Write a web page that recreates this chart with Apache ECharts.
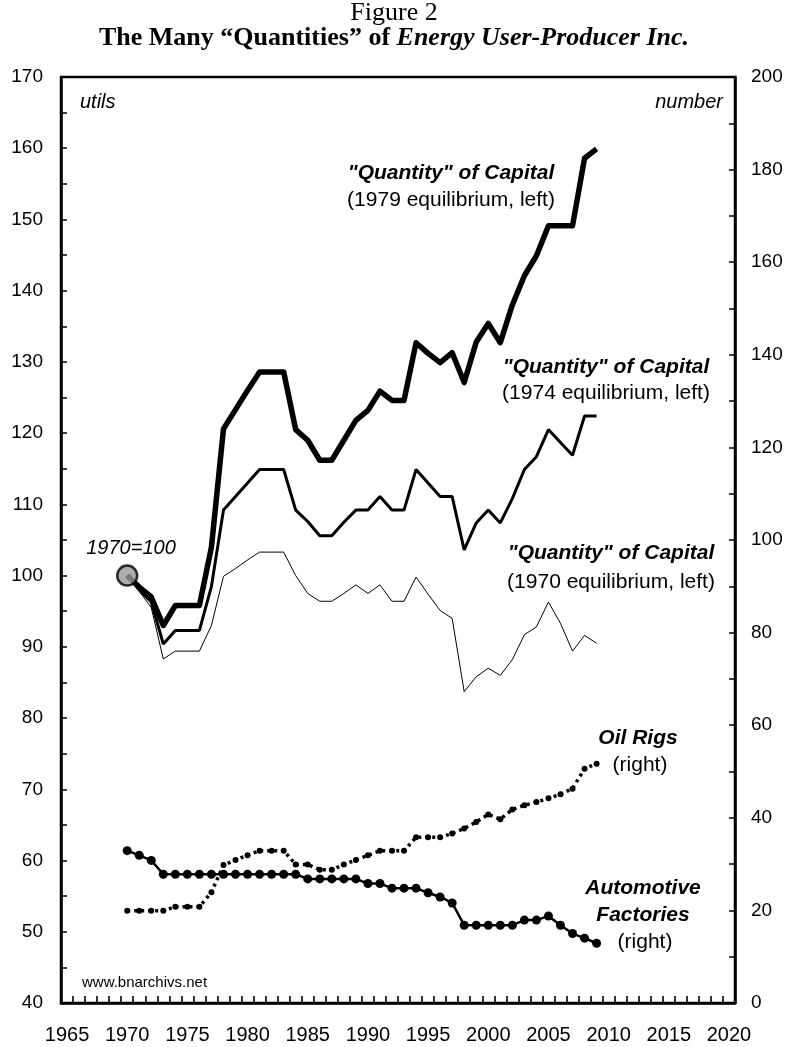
<!DOCTYPE html>
<html>
<head>
<meta charset="utf-8">
<script src="https://cdn.jsdelivr.net/npm/echarts@6/dist/echarts.min.js"></script>
<style>
html,body{margin:0;padding:0;background:#fff;}
#chart{width:788px;height:1047px;}
</style>
</head>
<body>
<div id="chart"></div>
<script>
// ---------- DATA ----------
const years = [1970,1971,1972,1973,1974,1975,1976,1977,1978,1979,1980,1981,1982,1983,1984,1985,1986,1987,1988,1989,1990,1991,1992,1993,1994,1995,1996,1997,1998,1999,2000,2001,2002,2003,2004,2005,2006,2007,2008,2009];

// "Quantity" of Capital, 1979 equilibrium (left axis)
const capital1979 = [100,98.4,97.0,93.0,95.8,95.8,95.8,104.0,120.6,123.3,126.0,128.6,128.6,128.6,120.5,119.0,116.2,116.2,119.0,121.8,123.2,125.9,124.6,124.6,132.7,131.2,129.9,131.3,127.1,132.8,135.4,132.7,138.0,142.1,144.9,149.1,149.1,149.1,158.6,159.9];

// "Quantity" of Capital, 1974 equilibrium (left axis)
const capital1974 = [100,98.0,96.3,90.4,92.3,92.3,92.3,98.5,109.2,111.1,113.0,114.9,114.9,114.9,109.2,107.6,105.6,105.6,107.5,109.2,109.2,111.1,109.2,109.2,114.9,113.0,111.1,111.1,103.6,107.4,109.2,107.4,110.8,114.9,116.7,120.5,118.7,116.9,122.4,122.4];

// "Quantity" of Capital, 1970 equilibrium (left axis)
const capital1970 = [100,97.8,95.5,88.3,89.4,89.4,89.4,93.0,99.9,101.0,102.2,103.3,103.3,103.3,100.0,97.5,96.4,96.4,97.5,98.7,97.5,98.7,96.4,96.4,99.8,97.4,95.1,94.0,83.7,85.8,87.0,86.0,88.2,91.7,92.8,96.3,93.3,89.4,91.6,90.5];

// Oil Rigs (right axis)
const oilRigs = [19.9,19.9,19.9,19.9,20.8,20.8,20.8,23.9,29.8,30.9,31.9,32.9,32.9,32.9,29.9,29.9,28.8,28.8,29.9,30.9,31.9,32.9,32.9,32.9,35.8,35.8,35.8,36.6,37.7,39.1,40.7,39.7,41.8,42.7,43.4,44.2,45.1,46.3,50.6,51.7];

// Automotive Factories (right axis)
const autoFactories = [32.9,31.9,30.8,27.8,27.8,27.8,27.8,27.8,27.8,27.8,27.8,27.8,27.8,27.8,27.8,26.8,26.8,26.8,26.8,26.8,25.8,25.8,24.8,24.8,24.8,23.8,22.9,21.6,16.8,16.8,16.8,16.8,16.8,17.9,17.9,18.8,16.8,15.0,14.0,12.9];

// Tick labels
const xTickLabels = [1965,1970,1975,1980,1985,1990,1995,2000,2005,2010,2015,2020];
const baseYear = 1970;
const baseValue = 100;

// ---------- CHART ----------
const pairs = arr => years.map((y, i) => [y, arr[i]]);

const SANS = '"Liberation Sans", Arial, sans-serif';
const SERIF = '"Liberation Serif", "Times New Roman", serif';

const chart = echarts.init(document.getElementById('chart'), null, {renderer: 'canvas'});

function txt(text, x, y, opts) {
  return {
    type: 'text', x: x, y: y, z: 100,
    style: Object.assign({
      text: text, fill: '#000', align: 'center', verticalAlign: 'middle',
      font: '21px ' + SANS
    }, opts || {})
  };
}

const option = {
  backgroundColor: '#fff',
  animation: false,
  title: {
    left: 'center', top: -4,
    text: '{f|Figure 2}\n{a|The Many “Quantities” of }{b|Energy User-Producer Inc.}',
    textStyle: {
      rich: {
        f: {fontFamily: SERIF, fontSize: 26, fontWeight: 'normal', color: '#000', lineHeight: 25},
        a: {fontFamily: SERIF, fontSize: 26, fontWeight: 'bold', color: '#000', lineHeight: 25},
        b: {fontFamily: SERIF, fontSize: 26, fontWeight: 'bold', fontStyle: 'italic', color: '#000', lineHeight: 25}
      }
    }
  },
  grid: {
    left: 61, right: 53, top: 77, bottom: 44,
    show: true, borderColor: '#000', borderWidth: 2.5, backgroundColor: 'transparent'
  },
  xAxis: {
    type: 'value', min: 1964.5, max: 2020.5, interval: 1,
    axisLine: {show: true, onZero: false, lineStyle: {color: '#000', width: 2.5}},
    axisTick: {show: true, inside: true, length: 7, lineStyle: {color: '#000', width: 1.6}},
    axisLabel: {customValues: xTickLabels, color: '#000', fontSize: 20, fontFamily: SANS, margin: 22,
      formatter: v => String(v)},
    splitLine: {show: false}
  },
  yAxis: [
    {
      type: 'value', position: 'left', min: 40, max: 170, interval: 10,
      axisLine: {show: true, lineStyle: {color: '#000', width: 2.5}},
      axisTick: {show: true, inside: true, length: 6, lineStyle: {color: '#000', width: 1.5}},
      minorTick: {show: true, splitNumber: 2, length: 6, lineStyle: {color: '#000', width: 1.5}},
      axisLabel: {color: '#000', fontSize: 19, fontFamily: SANS, margin: 18},
      splitLine: {show: false}
    },
    {
      type: 'value', position: 'right', min: 0, max: 200, interval: 20,
      axisLine: {show: true, lineStyle: {color: '#000', width: 2.5}},
      axisTick: {show: true, inside: true, length: 6, lineStyle: {color: '#000', width: 1.5}},
      minorTick: {show: true, splitNumber: 2, length: 6, lineStyle: {color: '#000', width: 1.5}},
      axisLabel: {color: '#000', fontSize: 19, fontFamily: SANS, margin: 16},
      splitLine: {show: false}
    }
  ],
  series: [
    {
      name: '1970 equilibrium', type: 'line', yAxisIndex: 0, data: pairs(capital1970),
      showSymbol: false, symbol: 'none', lineStyle: {color: '#000', width: 1}, z: 3
    },
    {
      name: '1974 equilibrium', type: 'line', yAxisIndex: 0, data: pairs(capital1974),
      showSymbol: false, symbol: 'none', lineStyle: {color: '#000', width: 3}, z: 4
    },
    {
      name: '1979 equilibrium', type: 'line', yAxisIndex: 0, data: pairs(capital1979),
      showSymbol: false, symbol: 'none', lineStyle: {color: '#000', width: 5.5, join: 'round'}, z: 5
    },
    {
      name: 'base', type: 'scatter', yAxisIndex: 0, data: [[baseYear, baseValue]],
      symbol: 'circle', symbolSize: 20,
      itemStyle: {color: '#999', borderColor: '#000', borderWidth: 2.5}, z: 6
    },
    {
      name: 'Automotive Factories', type: 'line', yAxisIndex: 1, data: pairs(autoFactories),
      symbol: 'circle', symbolSize: 9, showSymbol: true,
      itemStyle: {color: '#000'}, lineStyle: {color: '#000', width: 2.5}, z: 4
    },
    {
      name: 'Oil Rigs', type: 'line', yAxisIndex: 1, data: pairs(oilRigs),
      symbol: 'circle', symbolSize: 6, showSymbol: true,
      itemStyle: {color: '#000'}, lineStyle: {color: '#000', width: 3.5, type: [3, 4]}, z: 4
    }
  ],
  graphic: [
    txt('utils', 80, 102, {align: 'left', font: 'italic 20px ' + SANS}),
    txt('number', 723, 102, {align: 'right', font: 'italic 20px ' + SANS}),
    txt('"Quantity" of Capital', 451, 173, {font: 'italic bold 21px ' + SANS}),
    txt('(1979 equilibrium, left)', 451, 200),
    txt('"Quantity" of Capital', 606, 367, {font: 'italic bold 21px ' + SANS}),
    txt('(1974 equilibrium, left)', 606, 393),
    txt('"Quantity" of Capital', 611, 553, {font: 'italic bold 21px ' + SANS}),
    txt('(1970 equilibrium, left)', 611, 582),
    txt('1970=100', 131, 548, {font: 'italic 20px ' + SANS}),
    txt('Oil Rigs', 638, 738, {font: 'italic bold 21px ' + SANS}),
    txt('(right)', 640, 765),
    txt('Automotive', 643, 888, {font: 'italic bold 21px ' + SANS}),
    txt('Factories', 643, 915, {font: 'italic bold 21px ' + SANS}),
    txt('(right)', 645, 942),
    txt('www.bnarchivs.net', 82, 983, {align: 'left', font: '15px ' + SANS})
  ]
};
chart.setOption(option);
</script>
</body>
</html>
